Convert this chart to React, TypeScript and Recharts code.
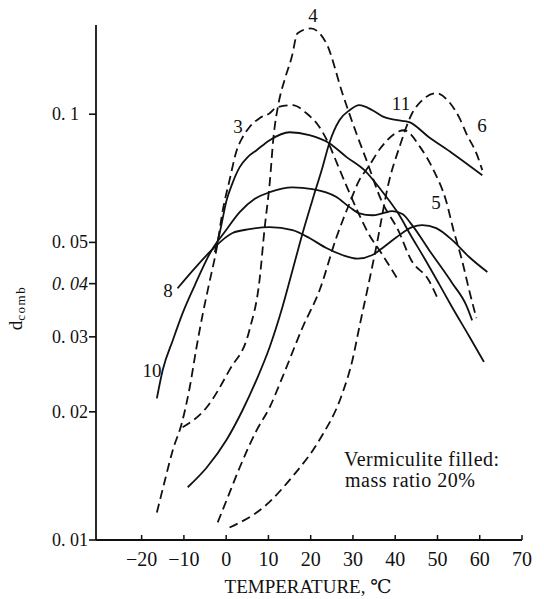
import React from 'react';
import { LineChart, Line, XAxis, YAxis } from 'recharts';

type Pt = [number, number];

// temperature (°C), d_comb
const curve3: Pt[] = [[-16.4,0.0116],[-14.5,0.0138],[-12.6,0.0163],[-10.5,0.0188],[-8.6,0.0229],[-7.0,0.0284],[-5.5,0.0341],[-4.1,0.0397],[-2.2,0.0487],[-0.8,0.0595],[0.8,0.0700],[2.5,0.0823],[3.9,0.0883],[5.5,0.0932],[7.9,0.0979],[10.3,0.1005],[11.9,0.1038],[15.7,0.1050],[19.0,0.1005],[22.1,0.0932],[24.2,0.0855],[26.6,0.0751],[28.9,0.0663],[31.3,0.0586],[33.6,0.0526],[36.7,0.0472],[40.7,0.0408]];
const curve4: Pt[] = [[-10.3,0.0184],[-4.6,0.0205],[0.8,0.0251],[5.5,0.0311],[7.9,0.0408],[9.1,0.0540],[10.3,0.0689],[11.2,0.0883],[12.4,0.1061],[13.8,0.1202],[15.5,0.1360],[16.9,0.1550],[20.0,0.1590],[23.7,0.1468],[27.5,0.1120],[30.8,0.0902],[33.2,0.0780],[36.7,0.0628],[40.7,0.0534],[43.8,0.0454],[47.9,0.0408],[49.9,0.0372]];
const curve5: Pt[] = [[-2.0,0.0110],[0.1,0.0124],[3.2,0.0148],[7.2,0.0181],[10.3,0.0205],[13.3,0.0241],[18.1,0.0316],[22.1,0.0386],[26.1,0.0514],[29.2,0.0618],[31.5,0.0700],[33.6,0.0751],[36.7,0.0837],[42.1,0.0917],[45.9,0.0837],[49.3,0.0731],[52.0,0.0628],[53.8,0.0534],[55.8,0.0454],[57.5,0.0386],[59.2,0.0332]];
const curve6: Pt[] = [[0.8,0.0107],[9.1,0.0120],[15.7,0.0141],[22.1,0.0172],[27.5,0.0221],[29.9,0.0265],[31.5,0.0316],[33.9,0.0408],[35.5,0.0487],[38.6,0.0700],[41.0,0.0837],[44.0,0.1005],[46.4,0.1079],[49.7,0.1120],[52.8,0.1067],[55.1,0.0984],[57.0,0.0893],[59.2,0.0810],[60.6,0.0739]];
const curve8: Pt[] = [[-11.5,0.0390],[-7.4,0.0435],[-3.4,0.0480],[1.5,0.0526],[5.5,0.0537],[10.3,0.0543],[15.7,0.0534],[19.7,0.0512],[23.7,0.0485],[27.5,0.0467],[31.1,0.0458],[34.6,0.0467],[37.0,0.0485],[40.3,0.0514],[44.0,0.0543],[46.4,0.0549],[49.7,0.0540],[53.5,0.0506],[57.5,0.0462],[61.8,0.0426]];
const curve10: Pt[] = [[-16.4,0.0215],[-15.0,0.0251],[-12.6,0.0295],[-10.3,0.0341],[-7.4,0.0397],[-3.4,0.0480],[-0.4,0.0528],[3.2,0.0589],[6.7,0.0632],[10.3,0.0656],[15.7,0.0673],[20.4,0.0667],[26.1,0.0639],[29.2,0.0605],[31.5,0.0585],[34.6,0.0579],[37.0,0.0585],[39.3,0.0592],[41.7,0.0583],[44.0,0.0549],[48.0,0.0480],[53.5,0.0401],[56.8,0.0356],[58.2,0.0328]];
const curve11: Pt[] = [[-9.1,0.0133],[-4.6,0.0148],[0.1,0.0172],[3.9,0.0202],[7.2,0.0238],[10.3,0.0284],[13.3,0.0352],[15.7,0.0430],[18.1,0.0526],[20.4,0.0628],[22.8,0.0751],[24.4,0.0855],[26.8,0.0968],[29.2,0.1022],[31.5,0.1050],[34.6,0.1022],[37.4,0.0984],[40.5,0.0968],[43.3,0.0958],[48.0,0.0883],[53.5,0.0810],[60.6,0.0719]];
const curveA: Pt[] = [[-2.7,0.0474],[-1.5,0.0528],[0.1,0.0628],[1.5,0.0689],[3.2,0.0751],[5.1,0.0793],[7.2,0.0823],[10.3,0.0869],[15.0,0.0907],[19.7,0.0893],[24.4,0.0855],[28.5,0.0793],[32.7,0.0739],[36.7,0.0663],[40.7,0.0585],[43.8,0.0517],[46.9,0.0459],[50.4,0.0399],[53.2,0.0356],[57.5,0.0301],[61.0,0.0262]];

const xTicks = [-20, -10, 0, 10, 20, 30, 40, 50, 60, 70];
const xTickLabels = ['\u221220', '\u221210', '0', '10', '20', '30', '40', '50', '60', '70'];
const yTicks = [0.01, 0.02, 0.03, 0.04, 0.05, 0.1];
const yTickLabels = ['0. 01', '0. 02', '0. 03', '0. 04', '0. 05', '0. 1'];

const series = [
  { id: 'c3', pts: curve3, dashed: true },
  { id: 'c4', pts: curve4, dashed: true },
  { id: 'c5', pts: curve5, dashed: true },
  { id: 'c6', pts: curve6, dashed: true },
  { id: 'c8', pts: curve8, dashed: false },
  { id: 'c10', pts: curve10, dashed: false },
  { id: 'c11', pts: curve11, dashed: false },
  { id: 'cA', pts: curveA, dashed: false },
];

const curveLabels = [
  { text: '4', x: 313, y: 15 },
  { text: '3', x: 238, y: 126 },
  { text: '11', x: 401, y: 103 },
  { text: '6', x: 482, y: 125 },
  { text: '5', x: 436, y: 202 },
  { text: '8', x: 168, y: 290 },
  { text: '10', x: 152, y: 370 },
];

const FONT = "'Liberation Serif', 'DejaVu Serif', serif";
const INK = '#111';
const W = 544;
const H = 599;
const X_TICK_SIZE = 6;
const X_TICK_MARGIN = 2;
const Y_TICK_SIZE = 7;
const Y_TICK_MARGIN = 2;

function XTick(props: any) {
  const { x, y, payload } = props;
  const axisY = y - X_TICK_SIZE - X_TICK_MARGIN;
  const idx = xTicks.indexOf(payload.value);
  return (
    <g>
      <line x1={x} x2={x} y1={axisY} y2={axisY - 5} stroke={INK} strokeWidth={1.5} />
      <text x={x} y={axisY + 26} textAnchor="middle" fontSize={20} fontFamily={FONT} fill={INK}>
        {idx >= 0 ? xTickLabels[idx] : String(payload.value)}
      </text>
    </g>
  );
}

function YTick(props: any) {
  const { x, y, payload } = props;
  const axisX = x + Y_TICK_SIZE + Y_TICK_MARGIN;
  const idx = yTicks.findIndex((v) => Math.abs(v - payload.value) < 1e-9);
  const label = idx >= 0 ? yTickLabels[idx] : String(payload.value);
  return (
    <text
      x={axisX - 44}
      y={y}
      dominantBaseline="central"
      textAnchor="start"
      fontSize={18}
      fontStyle={label === '0. 04' ? 'italic' : 'normal'}
      fontFamily={FONT}
      fill={INK}
    >
      {label}
    </text>
  );
}

export default function App() {
  return (
    <div style={{ position: 'relative', width: W, height: H }}>
      <style>{'html,body{margin:0;padding:0;}'}</style>
      <LineChart width={W} height={H} margin={{ top: 25, right: 22, bottom: 29, left: 36 }}>
        <XAxis
          dataKey="t"
          type="number"
          domain={[-30.8, 70]}
          allowDataOverflow
          ticks={xTicks}
          interval={0}
          tick={<XTick />}
          tickLine={false}
          tickSize={X_TICK_SIZE}
          tickMargin={X_TICK_MARGIN}
          axisLine={{ stroke: INK, strokeWidth: 1.8 }}
          height={30}
        />
        <YAxis
          dataKey="d"
          type="number"
          scale="log"
          domain={[0.01, 0.162]}
          allowDataOverflow
          ticks={yTicks}
          interval={0}
          tick={<YTick />}
          tickLine={{ stroke: INK, strokeWidth: 1.6 }}
          tickSize={Y_TICK_SIZE}
          tickMargin={Y_TICK_MARGIN}
          axisLine={{ stroke: INK, strokeWidth: 1.8 }}
          width={60}
        />
        {series.map((s) => (
          <Line
            key={s.id}
            data={s.pts.map(([t, d]) => ({ t, d }))}
            dataKey="d"
            type="monotone"
            stroke={INK}
            strokeWidth={1.8}
            strokeDasharray={s.dashed ? '9 5' : undefined}
            dot={false}
            activeDot={false}
            isAnimationActive={false}
          />
        ))}
      </LineChart>
      <svg
        width={W}
        height={H}
        style={{ position: 'absolute', left: 0, top: 0, pointerEvents: 'none' }}
      >
        {curveLabels.map((l) => (
          <text key={l.text} x={l.x} y={l.y} textAnchor="middle" dominantBaseline="central" fontSize={19} fontFamily={FONT} fill={INK}>
            {l.text}
          </text>
        ))}
        <text x={344} y={466} fontSize={20} letterSpacing={0.5} fontFamily={FONT} fill={INK}>Vermiculite filled:</text>
        <text x={345} y={487} fontSize={20} letterSpacing={0.5} fontFamily={FONT} fill={INK}>mass ratio 20%</text>
        <text x={308} y={593} textAnchor="middle" fontSize={19} fontFamily={FONT} fill={INK}>TEMPERATURE, ℃</text>
        <g transform="translate(22, 308) rotate(-90)">
          <text x={0} y={0} textAnchor="middle" fontSize={19} fontFamily={FONT} fill={INK}>
            d<tspan fontSize={13} dy={3} letterSpacing={1.5}>comb</tspan>
          </text>
        </g>
      </svg>
    </div>
  );
}
